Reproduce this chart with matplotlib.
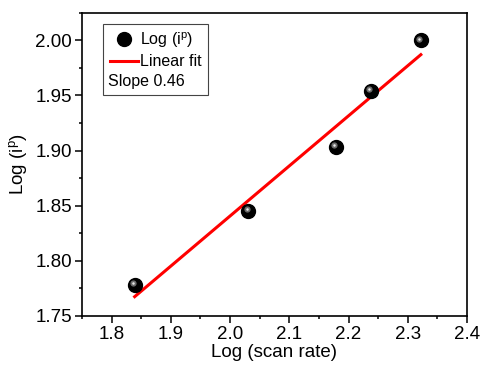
import numpy as np
import matplotlib
matplotlib.use('Agg')
import matplotlib.pyplot as plt
from matplotlib.ticker import MultipleLocator
from matplotlib.transforms import ScaledTranslation

plt.rcParams['font.family'] = ['Liberation Sans', 'DejaVu Sans']

log_scan_rate = [1.839, 2.031, 2.179, 2.238, 2.322]
log_ip = [1.778, 1.845, 1.903, 1.954, 2.000]
slope_label = 'Slope 0.46'

slope, intercept = np.polyfit(log_scan_rate, log_ip, 1)
fit_x = np.array([min(log_scan_rate), max(log_scan_rate)])
fit_y = slope * fit_x + intercept

fig = plt.figure(figsize=(4.82, 3.66), dpi=100)
ax = fig.add_axes([0.170, 0.137, 0.799, 0.828])

line_fit, = ax.plot(fit_x, fit_y, color='red', lw=2.2, label='Linear fit', zorder=2)
pts, = ax.plot(log_scan_rate, log_ip, 'o', color='black', ms=10, mec='black',
               label='Log (i$^\\mathregular{p}$)', zorder=3)
# fake sphere highlight
shift = ax.transData + ScaledTranslation(-1.8 / 100, 1.8 / 100, fig.dpi_scale_trans)
ax.plot(log_scan_rate, log_ip, 'o', color='#6a6a6a', ms=4.5, mew=0, transform=shift, zorder=4)
ax.plot(log_scan_rate, log_ip, 'o', color='#e8e8e8', ms=1.8, mew=0, transform=shift, zorder=5)

ax.set_xlim(1.75, 2.4)
ax.set_ylim(1.75, 2.025)
ax.xaxis.set_major_locator(MultipleLocator(0.1))
ax.xaxis.set_minor_locator(MultipleLocator(0.05))
ax.yaxis.set_major_locator(MultipleLocator(0.05))
ax.yaxis.set_minor_locator(MultipleLocator(0.025))
ax.xaxis.set_major_formatter(plt.FormatStrFormatter('%.1f'))
ax.yaxis.set_major_formatter(plt.FormatStrFormatter('%.2f'))

ax.tick_params(which='major', direction='out', length=5, width=1.1, labelsize=13.5, pad=2)
ax.tick_params(which='minor', direction='out', length=2.5, width=1.1)
ax.tick_params(top=False, right=False, which='both')
for s in ax.spines.values():
    s.set_linewidth(1.2)

ax.set_xlabel('Log (scan rate)', fontsize=13.5, labelpad=1)
ax.set_ylabel('Log (i$^\\mathregular{p}$)', fontsize=13.5, labelpad=4)

leg = ax.legend([pts, line_fit, plt.Line2D([], [], lw=0)],
                ['Log (i$^\\mathregular{p}$)', 'Linear fit', ' '],
                loc='upper left', bbox_to_anchor=(0.055, 0.963), borderaxespad=0,
                fontsize=11.5, frameon=True, fancybox=False, framealpha=1,
                edgecolor='#444444', handlelength=1.8, handletextpad=0.1,
                borderpad=0.4, labelspacing=0.28)
leg.get_frame().set_linewidth(0.8)
ax.text(0.067, 0.772, slope_label, transform=ax.transAxes,
        fontsize=11.5, va='center', ha='left', zorder=10)

fig.savefig('out.png', dpi=100)
